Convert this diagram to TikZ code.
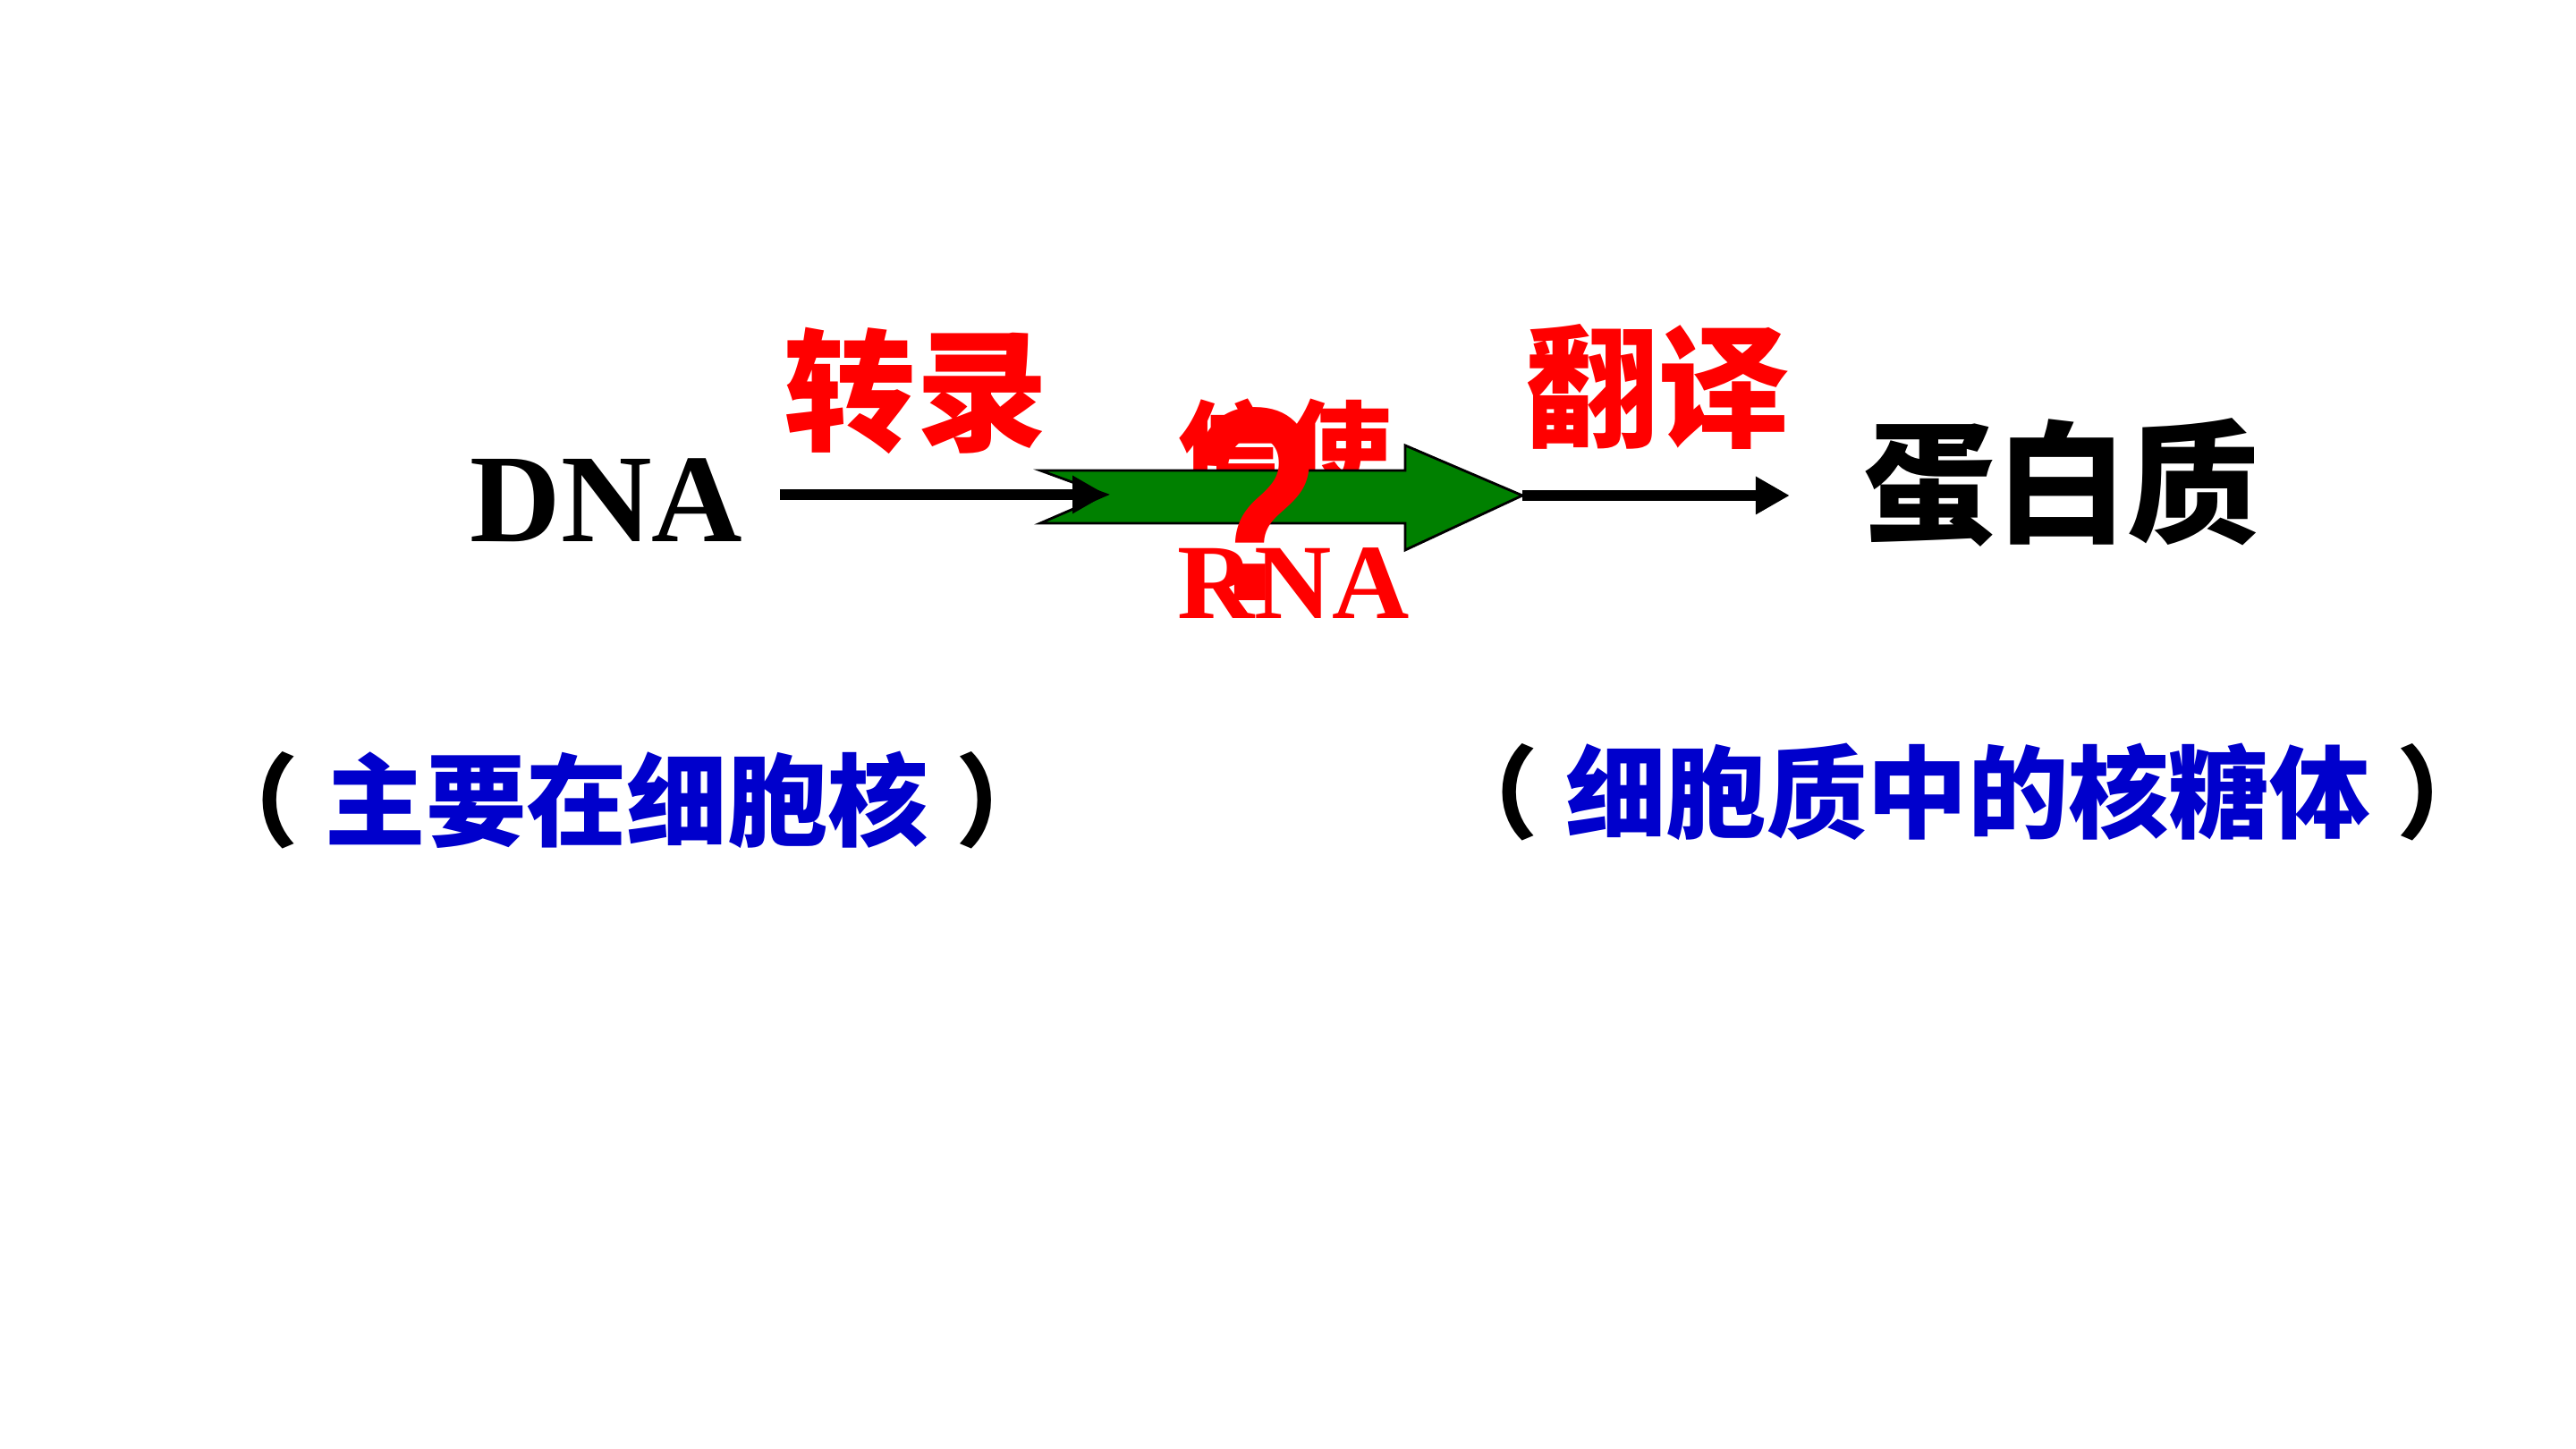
\documentclass[tikz,border=0pt]{standalone}
\usepackage{fontspec}
\setmainfont{Liberation Serif}
\newfontfamily\cjk{Noto Sans CJK SC}
\newfontfamily\qmark{Liberation Sans}
\usetikzlibrary{arrows.meta}
\definecolor{dblue}{RGB}{0,0,204}
\definecolor{dgreen}{RGB}{0,128,0}
\newcommand{\lpar}{{\color{black}（}\hspace{0.3cm}}
\newcommand{\rpar}{\hspace{0.3cm}{\color{black}）}}
\begin{document}
\begin{tikzpicture}[
  zh/.style={inner sep=0pt, font=\cjk\bfseries\fontsize{42}{48}\selectfont},
  place/.style={inner sep=0pt, font=\cjk\bfseries\fontsize{32}{38}\selectfont, text=dblue},
  flow/.style={line width=3.4pt, -{Triangle[length=0.38cm,width=0.4cm]}}]
\useasboundingbox (0,0) rectangle (28.8,16.2);
\node[inner sep=0pt, anchor=base, font=\bfseries\fontsize{40}{48}\selectfont] (dna) at (6.78,10.14) {DNA};
\node[zh, red] (tr) at (10.24,11.83) {转录};
\node[zh, red] (tl) at (18.53,11.87) {翻译};
\node[zh] (prot) at (23.05,10.80) {蛋白质};
\node[inner sep=0pt, red, font=\cjk\bfseries\fontsize{34}{40}\selectfont] (msg) at (14.36,11.17) {信使};
% green arrow
\coordinate (g0) at (11.63,10.94);
\coordinate (g1) at (12.37,10.67);
\coordinate (g2) at (11.63,10.35);
\coordinate (g3) at (15.71,10.35);
\coordinate (g4) at (15.71,10.05);
\coordinate (g5) at (17.02,10.66);
\coordinate (g6) at (15.71,11.22);
\coordinate (g7) at (15.71,10.94);
\draw[fill=dgreen, line width=0.8pt] (g0) -- (g1) -- (g2) -- (g3) -- (g4) -- (g5) -- (g6) -- (g7) -- cycle;
\draw[flow, shorten <=0.41cm] (dna.east |- g1) -- (g1);
\draw[flow, shorten >=0.82cm] (g5) -- (g5 -| prot.west);
\node[inner sep=0pt, anchor=base, red, xscale=0.8, font=\qmark\bfseries\fontsize{88}{96}\selectfont] (ask) at (14.03,9.48) {?};
\node[inner sep=0pt, anchor=base, red, font=\bfseries\fontsize{34}{40}\selectfont] (rna) at (14.46,9.28) {RNA};
\node[place] (nuc) at (7.01,7.25) {\lpar 主要在细胞核\rpar};
\node[place] (ribo) at (22.00,7.34) {\lpar 细胞质中的核糖体\rpar};
\end{tikzpicture}
\end{document}
